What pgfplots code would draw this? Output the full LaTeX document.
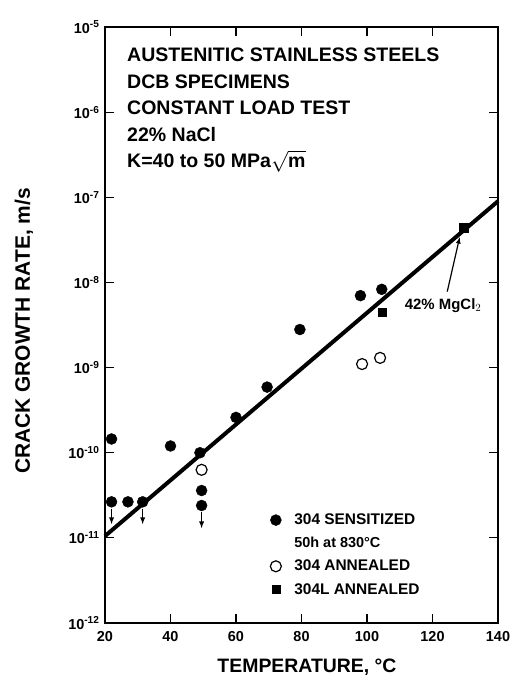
\documentclass[border=0pt]{standalone}
\usepackage{pgfplots}
\pgfplotsset{compat=1.18}
\usepackage{fontspec}
\setmainfont{Liberation Sans}
\begin{document}
\begin{tikzpicture}
\useasboundingbox (0bp,0bp) rectangle (512bp,679bp);
\begin{axis}[
  at={(105bp,56bp)}, anchor=south west,
  scale only axis, width=393bp, height=596bp,
  ymode=log, xmin=20, xmax=140, ymin=1e-12, ymax=1e-5,
  xtick={20,40,60,80,100,120,140},
  xticklabels={20,40,60,80,100,120,140},
  ytick={1e-12,1e-11,1e-10,1e-9,1e-8,1e-7,1e-6,1e-5},
  yticklabels={10\textsuperscript{-12},10\textsuperscript{-11},10\textsuperscript{-10},10\textsuperscript{-9},10\textsuperscript{-8},10\textsuperscript{-7},10\textsuperscript{-6},10\textsuperscript{-5}},
  yminorticks=false,
  tick align=inside, major tick length=9bp,
  tick style={line width=1.2bp, black},
  axis line style={line width=2.2bp},
  ticklabel style={font=\bfseries\fontsize{14.5}{14.5}\selectfont},
  xticklabel style={yshift=-5bp},
  yticklabel style={xshift=-2bp},
  clip=false,
  legend style={at={(0.405,0.19)}, anchor=north west, draw=none, fill=none,
    font=\bfseries\fontsize{15.5}{17}\selectfont, row sep=7bp,
    /tikz/every odd column/.append style={column sep=11bp}},
  legend cell align=left,
]
% regression line
\addplot[black, line width=4bp, forget plot] coordinates {(20,1.05e-11) (140,9e-8)};
% 304 sensitized
\addplot[only marks, mark=*, mark size=5.5bp, black] coordinates {
(22,1.45e-10) (22,2.65e-11) (27,2.65e-11) (31.5,2.65e-11) (40,1.2e-10)
(49,1.0e-10) (49.5,3.6e-11) (49.5,2.4e-11) (60,2.6e-10) (69.5,5.9e-10)
(79.5,2.8e-9) (98,7.0e-9) (104.5,8.3e-9)};
\addlegendentry{304 SENSITIZED}
\addlegendimage{empty legend}
\addlegendentry{\fontsize{14.5}{14.5}\selectfont 50h at 830°C}
% 304 annealed
\addplot[only marks, mark=o, mark size=5.5bp, black, line width=1.2bp] coordinates {
(49.5,6.3e-11) (98.5,1.1e-9) (104,1.3e-9)};
\addlegendentry{304 ANNEALED}
% 304L annealed
\addplot[only marks, mark=square*, mark size=4bp, black] coordinates {(104.5,4.5e-9)};
\addlegendentry{304L ANNEALED}
% 42% MgCl2
\addplot[only marks, mark=square*, mark size=4.5bp, black, forget plot] coordinates {(129.5,4.4e-8)};
% down arrows
\draw[-latex, line width=1.3bp] (axis cs:22,2.2e-11) -- (axis cs:22,1.45e-11);
\draw[-latex, line width=1.3bp] (axis cs:31.5,2.2e-11) -- (axis cs:31.5,1.45e-11);
\draw[-latex, line width=1.3bp] (axis cs:49.5,2.0e-11) -- (axis cs:49.5,1.3e-11);
% MgCl2 annotation
\draw[-latex, line width=1.2bp] (axis cs:124.5,7.8e-9) -- (axis cs:128.3,3.4e-8);
\node[anchor=west, font=\bfseries\fontsize{15}{15}\selectfont, inner sep=0pt] at (axis cs:111.5,5.4e-9) {42\% MgCl$_2$};
\end{axis}
\node[anchor=north west, align=left, inner sep=0pt,
  font=\bfseries\fontsize{19.6}{26.5}\selectfont] at (127bp,631bp)
  {AUSTENITIC STAINLESS STEELS\\DCB SPECIMENS\\CONSTANT LOAD TEST\\22\% NaCl\\K=40 to 50 MPa$\sqrt{\mbox{m}}$};
\node[rotate=90, font=\bfseries\fontsize{21}{21}\selectfont] at (24bp,348bp) {CRACK GROWTH RATE, m/s};
\node[font=\bfseries\fontsize{19.5}{19.5}\selectfont] at (307bp,12bp) {TEMPERATURE, °C};
\end{tikzpicture}
\end{document}
